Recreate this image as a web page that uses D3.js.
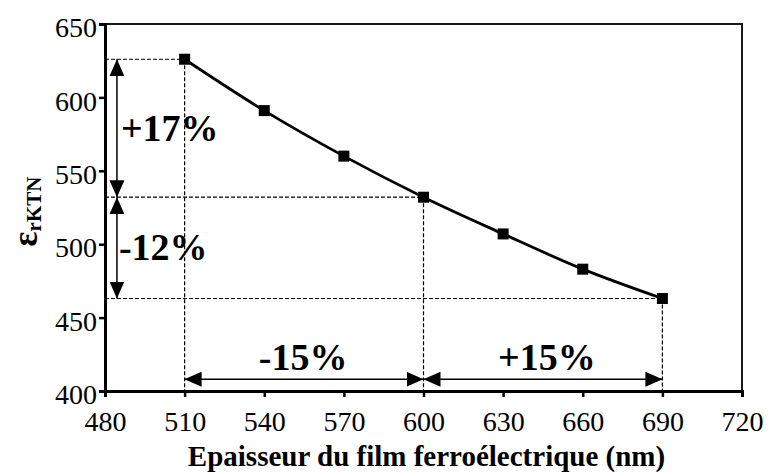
<!DOCTYPE html>
<html>
<head>
<meta charset="utf-8">
<script src="https://cdn.jsdelivr.net/npm/d3@7/dist/d3.min.js"></script>
<style>
  html, body { margin: 0; padding: 0; background: #fff; }
  svg { display: block; }
  text { font-family: "Liberation Serif", "Times New Roman", serif; fill: #000; }
</style>
</head>
<body>
<svg id="chart" width="768" height="472"></svg>
<script>
// Film thickness (nm) and relative permittivity of the KTN layer
const thickness = [510, 540, 570, 600, 630, 660, 690];
const permittivity = [626, 591, 560, 532, 507, 483, 463];

const xTicks = [480, 510, 540, 570, 600, 630, 660, 690, 720];
const yTicks = [400, 450, 500, 550, 600, 650];

// Reference point (600 nm) and the two thickness extremes
const refIndex = 3, lowIndex = 0, highIndex = 6;
const verticalLabels = ["+17%", "-12%"];
const horizontalLabels = ["-15%", "+15%"];

const svg = d3.select("#chart");
const margin = { left: 105, right: 26, top: 24, bottom: 81 };
const W = 768, H = 472;

const x = d3.scaleLinear().domain([480, 720]).range([margin.left, W - margin.right]);
const y = d3.scaleLinear().domain([400, 650]).range([H - margin.bottom, margin.top]);

const defs = svg.append("defs");
function arrowMarker(id, orient) {
  defs.append("marker")
    .attr("id", id)
    .attr("viewBox", "0 0 17 15")
    .attr("refX", 17).attr("refY", 7.5)
    .attr("markerWidth", 17).attr("markerHeight", 15)
    .attr("markerUnits", "userSpaceOnUse")
    .attr("orient", orient)
    .append("path").attr("d", "M0,0 L17,7.5 L0,15 Z").attr("fill", "#000");
}
arrowMarker("arrowEnd", "auto");
arrowMarker("arrowStart", "auto-start-reverse");

// Frame
svg.append("rect")
  .attr("x", x(480)).attr("y", y(650))
  .attr("width", x(720) - x(480)).attr("height", y(400) - y(650))
  .attr("fill", "none").attr("stroke", "#000").attr("stroke-width", 1.8);

// Axes
const xAxis = svg.append("g")
  .attr("transform", `translate(0,${y(400)})`)
  .call(d3.axisBottom(x).tickValues(xTicks).tickSize(6).tickFormat(d3.format("d")));
const yAxis = svg.append("g")
  .attr("transform", `translate(${x(480)},0)`)
  .call(d3.axisLeft(y).tickValues(yTicks).tickSize(6).tickPadding(2).tickFormat(d3.format("d")));

[xAxis, yAxis].forEach(g => {
  g.attr("font-family", null);
  g.select(".domain").attr("stroke", "#000").attr("stroke-width", 3);
  g.selectAll(".tick line").attr("stroke", "#000").attr("stroke-width", 2.5);
  g.selectAll(".tick text").attr("font-size", 28).attr("fill", "#000");
});
xAxis.selectAll(".tick text").attr("y", 40).attr("dy", 0);
yAxis.selectAll(".tick text").attr("dy", "0.45em");

// Dashed guides
const guides = svg.append("g")
  .attr("stroke", "#000").attr("stroke-width", 1.2).attr("stroke-dasharray", "4,2").attr("fill", "none");
[lowIndex, refIndex, highIndex].forEach(i => {
  guides.append("line")
    .attr("x1", x(480)).attr("x2", x(thickness[i]))
    .attr("y1", y(permittivity[i])).attr("y2", y(permittivity[i]));
  guides.append("line")
    .attr("x1", x(thickness[i])).attr("x2", x(thickness[i]))
    .attr("y1", y(permittivity[i])).attr("y2", y(400));
});

// Curve
const line = d3.line()
  .x((d, i) => x(thickness[i]))
  .y(d => y(d))
  .curve(d3.curveCatmullRom.alpha(0.5));
svg.append("path")
  .datum(permittivity)
  .attr("d", line)
  .attr("fill", "none").attr("stroke", "#000").attr("stroke-width", 2.8);

// Markers
const ms = 11;
svg.append("g").selectAll("rect")
  .data(permittivity)
  .join("rect")
  .attr("x", (d, i) => x(thickness[i]) - ms / 2)
  .attr("y", d => y(d) - ms / 2)
  .attr("width", ms).attr("height", ms)
  .attr("fill", "#000");

// Double-headed arrows
const arrows = svg.append("g").attr("stroke", "#000").attr("stroke-width", 1.5)
  .attr("marker-start", "url(#arrowStart)").attr("marker-end", "url(#arrowEnd)");
const vx = x(484.5);
arrows.append("line").attr("x1", vx).attr("x2", vx)
  .attr("y1", y(permittivity[lowIndex])).attr("y2", y(permittivity[refIndex]));
arrows.append("line").attr("x1", vx).attr("x2", vx)
  .attr("y1", y(permittivity[refIndex])).attr("y2", y(permittivity[highIndex]));
const hy = y(408);
arrows.append("line").attr("x1", x(thickness[lowIndex])).attr("x2", x(thickness[refIndex]))
  .attr("y1", hy).attr("y2", hy);
arrows.append("line").attr("x1", x(thickness[refIndex])).attr("x2", x(thickness[highIndex]))
  .attr("y1", hy).attr("y2", hy);

// Percentage labels
const pct = svg.append("g").attr("font-weight", "bold").attr("font-size", 38);
pct.append("text").attr("x", vx + 4).attr("y", y(570)).text(verticalLabels[0]);
pct.append("text").attr("x", vx + 2).attr("y", y(498) + 13).text(verticalLabels[1]);
pct.append("text").attr("text-anchor", "middle")
  .attr("x", (x(thickness[lowIndex]) + x(thickness[refIndex])) / 2 - 1)
  .attr("y", hy - 9).text(horizontalLabels[0]);
pct.append("text").attr("text-anchor", "middle")
  .attr("x", (x(thickness[refIndex]) + x(thickness[highIndex])) / 2 + 4)
  .attr("y", hy - 9).text(horizontalLabels[1]);

// Axis titles
svg.append("text")
  .attr("x", 426.5).attr("y", 466)
  .attr("text-anchor", "middle").attr("font-weight", "bold").attr("font-size", 29)
  .text("Epaisseur du film ferroélectrique (nm)");

const yTitle = svg.append("text")
  .attr("transform", `translate(37,${(y(400) + y(650)) / 2 + 4}) rotate(-90)`)
  .attr("text-anchor", "middle").attr("font-weight", "bold");
yTitle.append("tspan").attr("font-size", 35).text("ε");
yTitle.append("tspan").attr("font-size", 21).attr("dy", 4).text("rKTN");
</script>
</body>
</html>
